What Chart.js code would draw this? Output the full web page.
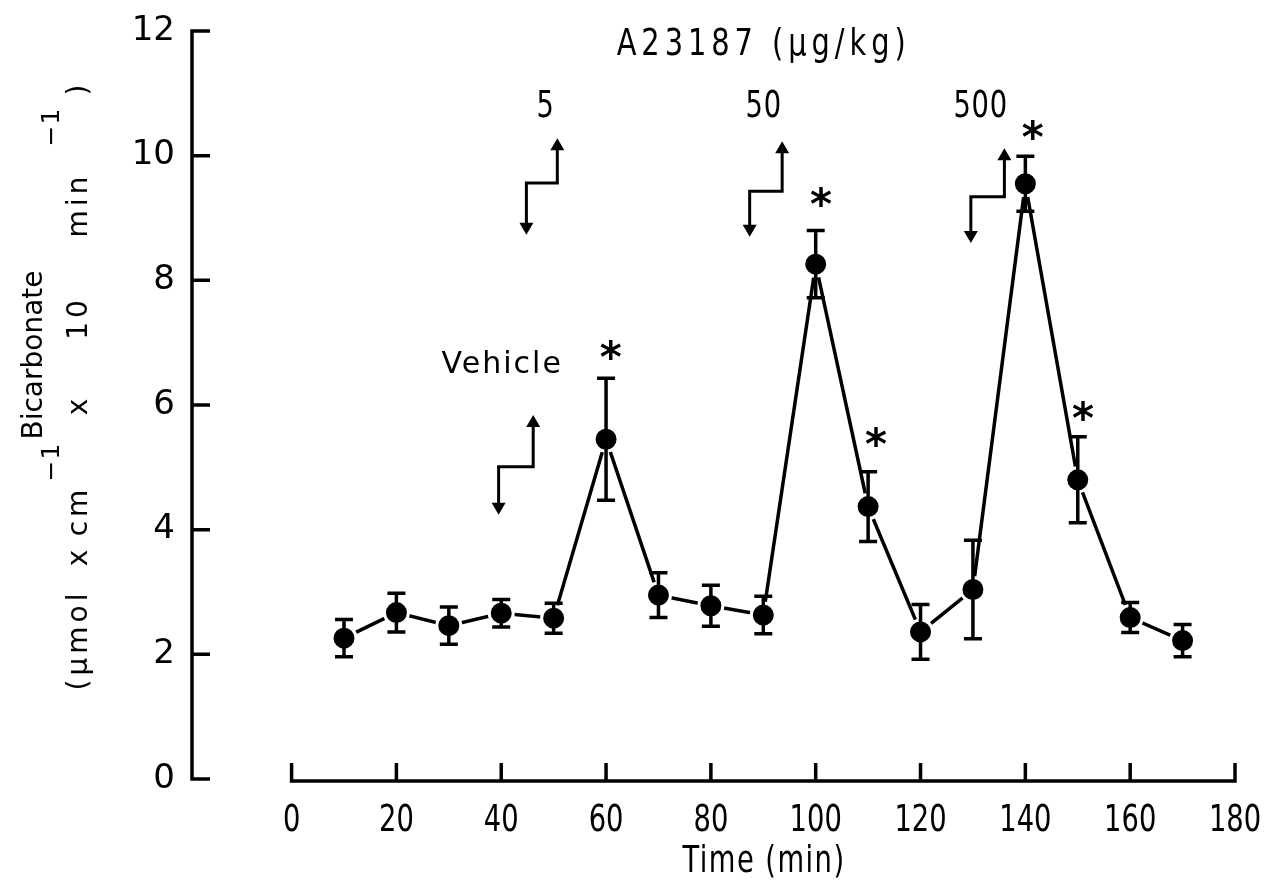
<!DOCTYPE html>
<html>
<head>
<meta charset="utf-8">
<title>Bicarbonate secretion, A23187</title>
<script src="https://cdn.jsdelivr.net/npm/chart.js@4.4.1/dist/chart.umd.min.js"></script>
<style>
  html, body { margin: 0; padding: 0; background: #fff; }
  canvas { display: block; }
</style>
</head>
<body>
<canvas id="chart" width="1267" height="888"></canvas>
<script>
// sampling times (min) and bicarbonate output (mean, SE)
const timePoints = [10, 20, 30, 40, 50, 60, 70, 80, 90, 100, 110, 120, 130, 140, 150, 160, 170];
const meanBicarb = [2.26, 2.67, 2.46, 2.66, 2.58, 5.45, 2.95, 2.78, 2.63, 8.26, 4.37, 2.36, 3.04, 9.55, 4.80, 2.59, 2.22];
const semBicarb  = [0.30, 0.31, 0.30, 0.22, 0.24, 0.98, 0.36, 0.33, 0.30, 0.54, 0.56, 0.44, 0.79, 0.44, 0.69, 0.24, 0.26];

const xTickValues = [0, 20, 40, 60, 80, 100, 120, 140, 160, 180];
const yTickValues = [0, 2, 4, 6, 8, 10, 12];

// significance marks
const starX = [60.9, 101, 111.5, 141.4, 151];
const starY = [6.88, 9.34, 5.48, 10.41, 5.90];

// injection arrows (vehicle, 5, 50, 500)
const arrowDownX   = [39.5, 44.8, 87.4, 129.6];
const arrowUpX     = [46.1, 50.7, 93.6, 136.0];
const arrowBottomY = [4.24, 8.73, 8.70, 8.60];
const arrowStepY   = [5.01, 9.56, 9.43, 9.34];
const arrowTopY    = [5.84, 10.28, 10.23, 10.12];

const doseLabels = ["Vehicle", "5", "50", "500"];
const doseLabelX = [40.0, 48.4, 90.0, 131.4];
const doseLabelY = [6.64, 10.78, 10.78, 10.78];
const doseTitle = "A23187 (\u03bcg/kg)";
const doseTitleX = 89.6, doseTitleY = 11.78;

// y title, second line: words with their screen-y centres (text runs upward)
const unitWords = [
  { t: '(\u03bcmol', y: 640, sup: false },
  { t: 'x', y: 556, sup: false },
  { t: 'cm', y: 511, sup: false },
  { t: '\u22121', y: 462, sup: true },
  { t: 'x', y: 405, sup: false },
  { t: '10', y: 318, sup: false },
  { t: 'min', y: 205, sup: false },
  { t: '\u22121', y: 127, sup: true },
  { t: ')', y: 88, sup: false }
];

const wideFont = '"DejaVu Sans", sans-serif';

// tall narrow text: normal glyphs squeezed horizontally
function narrowText(ctx, text, x, y, size, sx, spacing) {
  ctx.save();
  ctx.translate(x, y);
  ctx.scale(sx, 1);
  ctx.font = size + 'px ' + wideFont;
  ctx.letterSpacing = (spacing || 0) + 'px';
  ctx.textAlign = 'center';
  ctx.textBaseline = 'middle';
  ctx.fillText(text, (spacing || 0) / 2, 0);
  ctx.restore();
}

const annotate = {
  id: 'annotate',
  afterDatasetsDraw(chart) {
    const ctx = chart.ctx;
    const xs = chart.scales.x, ys = chart.scales.y;
    const X = v => xs.getPixelForValue(v);
    const Y = v => ys.getPixelForValue(v);
    const area = chart.chartArea;
    ctx.save();
    ctx.strokeStyle = '#000';
    ctx.fillStyle = '#000';
    ctx.lineWidth = 3.5;
    ctx.lineJoin = 'miter';

    // y axis with inward ticks
    ctx.beginPath();
    ctx.moveTo(area.left, Y(0) + 1.75);
    ctx.lineTo(area.left, Y(12) - 1.75);
    yTickValues.forEach(v => {
      ctx.moveTo(area.left, Y(v));
      ctx.lineTo(area.left + 18, Y(v));
    });
    ctx.stroke();

    // x axis (starts at 0) with inward ticks
    ctx.beginPath();
    ctx.moveTo(X(0) - 1.75, Y(0) + 2);
    ctx.lineTo(X(180) + 1.75, Y(0) + 2);
    xTickValues.forEach(v => {
      ctx.moveTo(X(v), Y(0) + 2);
      ctx.lineTo(X(v), Y(0) - 16);
    });
    ctx.stroke();

    // x tick labels
    xTickValues.forEach(v => narrowText(ctx, String(v), X(v), 821, 38, 0.72, 0));
    // x axis title
    narrowText(ctx, 'Time (min)', (X(0) + X(180)) / 2, 862, 38, 0.72, 2);

    // error bars
    ctx.lineWidth = 3.5;
    ctx.beginPath();
    timePoints.forEach((t, i) => {
      const x = X(t);
      const hi = Y(meanBicarb[i] + semBicarb[i]);
      const lo = Y(meanBicarb[i] - semBicarb[i]);
      ctx.moveTo(x, hi); ctx.lineTo(x, lo);
      ctx.moveTo(x - 9, hi); ctx.lineTo(x + 9, hi);
      ctx.moveTo(x - 9, lo); ctx.lineTo(x + 9, lo);
    });
    ctx.stroke();

    // step arrows
    const head = (x, tipY, dir) => {
      ctx.beginPath();
      ctx.moveTo(x, tipY);
      ctx.lineTo(x - 7, tipY - dir * 12);
      ctx.lineTo(x + 7, tipY - dir * 12);
      ctx.closePath();
      ctx.fill();
    };
    ctx.lineWidth = 3;
    arrowDownX.forEach((xd, i) => {
      const x1 = X(xd), x2 = X(arrowUpX[i]);
      const yb = Y(arrowBottomY[i]), ym = Y(arrowStepY[i]), yt = Y(arrowTopY[i]);
      ctx.beginPath();
      ctx.moveTo(x1, yb - 8);
      ctx.lineTo(x1, ym);
      ctx.lineTo(x2, ym);
      ctx.lineTo(x2, yt + 8);
      ctx.stroke();
      head(x1, yb, 1);
      head(x2, yt, -1);
    });

    // asterisks
    ctx.font = 'bold 42px ' + wideFont;
    ctx.textAlign = 'center';
    ctx.textBaseline = 'alphabetic';
    const m = ctx.measureText('*');
    const off = (m.actualBoundingBoxAscent - m.actualBoundingBoxDescent) / 2;
    starX.forEach((sx, i) => ctx.fillText('*', X(sx), Y(starY[i]) + off));

    // dose labels
    doseLabels.forEach((lab, i) => {
      if (i === 0) {
        ctx.font = '30px ' + wideFont;
        ctx.letterSpacing = '2px';
        ctx.textAlign = 'center';
        ctx.textBaseline = 'middle';
        ctx.fillText(lab, X(doseLabelX[i]) + 1, Y(doseLabelY[i]));
        ctx.letterSpacing = '0px';
      } else {
        narrowText(ctx, lab, X(doseLabelX[i]), Y(doseLabelY[i]), 38, 0.72, 1);
      }
    });
    narrowText(ctx, doseTitle, X(doseTitleX), Y(doseTitleY), 38, 0.76, 6.5);

    // y axis title, two rotated lines with superscripts
    ctx.save();
    ctx.translate(35, 355);
    ctx.rotate(-Math.PI / 2);
    ctx.font = '28px ' + wideFont;
    ctx.textAlign = 'center';
    ctx.textBaseline = 'middle';
    ctx.fillText('Bicarbonate', 0, 0);
    ctx.restore();

    ctx.save();
    ctx.translate(80, 0);
    ctx.rotate(-Math.PI / 2);
    ctx.textAlign = 'center';
    ctx.textBaseline = 'middle';
    unitWords.forEach(w => {
      ctx.font = (w.sup ? '25px ' : '28px ') + wideFont;
      ctx.letterSpacing = w.sup ? '1px' : '4px';
      ctx.fillText(w.t, -w.y, w.sup ? -28 : 0);
    });
    ctx.restore();

    ctx.restore();
  }
};

const chart = new Chart(document.getElementById('chart').getContext('2d'), {
  type: 'scatter',
  data: {
    datasets: [{
      data: timePoints.map((t, i) => ({ x: t, y: meanBicarb[i] })),
      showLine: true,
      borderColor: '#000',
      borderWidth: 3.5,
      pointRadius: 12,
      pointHoverRadius: 12,
      pointBackgroundColor: '#000',
      pointBorderColor: '#fff',
      pointBorderWidth: 3
    }]
  },
  options: {
    responsive: false,
    animation: false,
    events: [],
    layout: { padding: { left: 0, right: 32, top: 31, bottom: 0 } },
    plugins: { legend: { display: false }, tooltip: { enabled: false } },
    scales: {
      x: {
        type: 'linear',
        min: -19,
        max: 180,
        grid: { display: false, drawTicks: false },
        border: { display: false },
        afterBuildTicks: s => { s.ticks = xTickValues.map(v => ({ value: v })); },
        afterFit: s => { s.height = 109; s.paddingLeft = 0; s.paddingRight = 0; },
        ticks: { display: false }
      },
      y: {
        type: 'linear',
        min: 0,
        max: 12,
        grid: { display: false, drawTicks: false },
        border: { display: false },
        afterBuildTicks: s => { s.ticks = yTickValues.map(v => ({ value: v })); },
        afterFit: s => { s.width = 192; s.paddingTop = 0; s.paddingBottom = 0; },
        ticks: {
          color: '#000',
          padding: 17,
          font: { family: wideFont, size: 34 }
        }
      }
    }
  },
  plugins: [annotate]
});
</script>
</body>
</html>
